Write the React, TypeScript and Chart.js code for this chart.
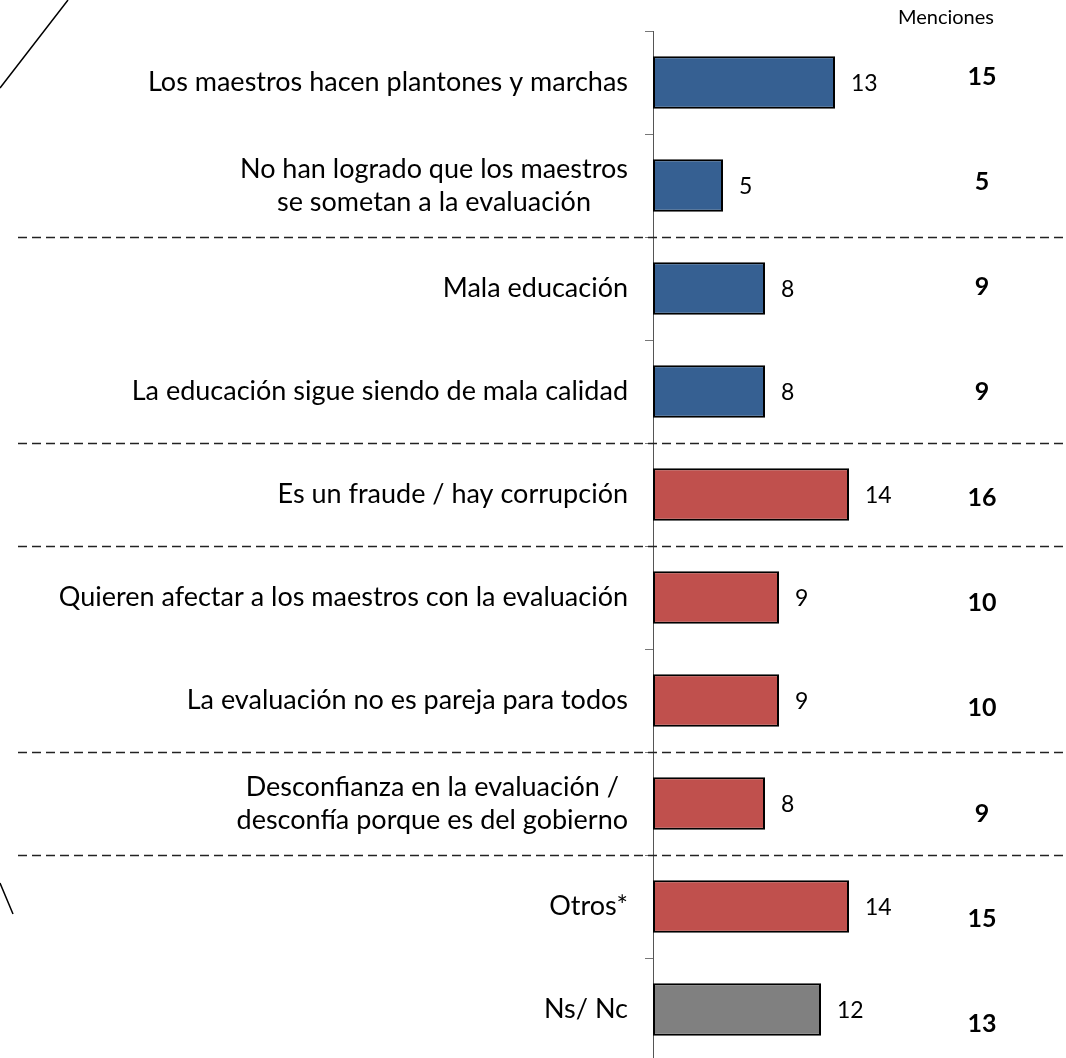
import React, { useEffect, useRef } from "react";
import { Chart, registerables } from "chart.js";

Chart.register(...registerables);

const categories: (string | string[])[] = [
  "Los maestros hacen plantones y marchas",
  ["No han logrado que los maestros", "se sometan a la evaluación"],
  "Mala educación",
  "La educación sigue siendo de mala calidad",
  "Es un fraude / hay corrupción",
  "Quieren afectar a los maestros con la evaluación",
  "La evaluación no es pareja para todos",
  ["Desconfianza en la evaluación /", "desconfía porque es del gobierno"],
  "Otros*",
  "Ns/ Nc",
];
const percentValues = [13, 5, 8, 8, 14, 9, 9, 8, 14, 12];
const mentionValues = [15, 5, 9, 9, 16, 10, 10, 9, 15, 13];
const barColors = [
  "#366092", "#366092", "#366092", "#366092",
  "#C0504D", "#C0504D", "#C0504D", "#C0504D", "#C0504D",
  "#808080",
];
const separatorsAfter = [1, 3, 4, 6, 7];
const headerText = "Menciones";

const FONT = "Lato, 'Open Sans', sans-serif";

const overlayPlugin = {
  id: "overlay",
  afterDatasetsDraw(chart: any) {
    const ctx: CanvasRenderingContext2D = chart.ctx;
    const y = chart.scales.y;
    const x = chart.scales.x;
    const meta = chart.getDatasetMeta(0);
    ctx.save();

    // left decorative strokes
    ctx.strokeStyle = "#000";
    ctx.lineWidth = 1.5;
    ctx.beginPath();
    ctx.moveTo(0, 88);
    ctx.lineTo(68, 0);
    ctx.moveTo(0, 883);
    ctx.lineTo(13, 914);
    ctx.stroke();

    // dashed separators
    ctx.setLineDash([9, 5]);
    ctx.lineWidth = 1.6;
    ctx.strokeStyle = "#222";
    separatorsAfter.forEach((i) => {
      const yy = Math.round((y.getPixelForValue(i) + y.getPixelForValue(i + 1)) / 2) + 0.5;
      ctx.beginPath();
      ctx.moveTo(18, yy);
      ctx.lineTo(chart.width, yy);
      ctx.stroke();
    });
    ctx.setLineDash([]);

    // category labels (right-aligned block, lines centered)
    ctx.fillStyle = "#000";
    ctx.font = `27px ${FONT}`;
    ctx.textBaseline = "middle";
    const rightEdge = x.getPixelForValue(0) - 25;
    categories.forEach((lab, i) => {
      const lines = Array.isArray(lab) ? lab : [lab];
      const widths = lines.map((l) => ctx.measureText(l).width);
      const blockW = Math.max(...widths);
      const cx = rightEdge - blockW / 2;
      const cy = y.getPixelForValue(i);
      const lh = 33;
      ctx.textAlign = "center";
      lines.forEach((l, k) => {
        ctx.fillText(l, cx, cy + (k - (lines.length - 1) / 2) * lh);
      });
    });

    // value labels
    ctx.font = `23px ${FONT}`;
    ctx.textAlign = "left";
    meta.data.forEach((bar: any, i: number) => {
      ctx.fillText(String(percentValues[i]), bar.x + 16, bar.y + 1);
    });

    // mentions column
    ctx.font = `bold 25px ${FONT}`;
    ctx.textAlign = "center";
    mentionValues.forEach((v, i) => {
      const cy = y.getPixelForValue(i) - 6 + i * 2.3;
      ctx.fillText(String(v), 982, cy);
    });
    ctx.font = `20px ${FONT}`;
    ctx.textAlign = "right";
    ctx.fillText(headerText, 994, 18);

    ctx.restore();
  },
};

export default function App() {
  const ref = useRef<HTMLCanvasElement>(null);
  useEffect(() => {
    if (!ref.current) return;
    const chart = new Chart(ref.current, {
      type: "bar",
      data: {
        labels: categories as any,
        datasets: [
          {
            data: percentValues,
            backgroundColor: barColors,
            borderColor: "#000",
            borderWidth: 2,
            borderSkipped: false,
            categoryPercentage: 1,
            barPercentage: 0.51,
          },
        ],
      },
      options: {
        indexAxis: "y",
        animation: false,
        responsive: false,
        maintainAspectRatio: false,
        layout: { padding: { top: 31, bottom: 3, left: 0, right: 133 } },
        plugins: { legend: { display: false }, tooltip: { enabled: false } },
        scales: {
          x: { display: false, min: 0, max: 20 },
          y: {
            afterFit: (s: any) => {
              s.width = 653;
            },
            ticks: { display: false },
            grid: {
              offset: true,
              drawOnChartArea: false,
              drawTicks: true,
              tickLength: 8,
              color: "#777",
              lineWidth: 1,
            },
            border: { display: true, color: "#555", width: 1 },
          },
        },
      },
      plugins: [overlayPlugin],
    });
    return () => chart.destroy();
  }, []);
  return (
    <div
      style={{
        position: "absolute",
        left: 0,
        top: 0,
        width: 1066,
        height: 1058,
        overflow: "hidden",
        background: "#fff",
      }}
    >
      <canvas ref={ref} width={1066} height={1064} style={{ display: "block" }} />
    </div>
  );
}
